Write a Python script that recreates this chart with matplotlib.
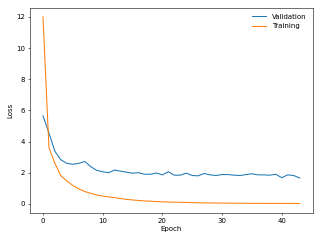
import matplotlib
matplotlib.use('Agg')
import matplotlib.pyplot as plt

# 학습 곡선 데이터
epochs = list(range(44))
val_loss = [5.65, 4.55, 3.37, 2.83, 2.6, 2.54, 2.6, 2.72, 2.39, 2.15,
            2.06, 2.0, 2.17, 2.1, 2.03, 1.97, 2.0, 1.9, 1.9, 1.98,
            1.86, 2.06, 1.84, 1.84, 1.97, 1.82, 1.8, 1.95, 1.86, 1.82,
            1.88, 1.88, 1.84, 1.82, 1.88, 1.93, 1.86, 1.86, 1.84, 1.9,
            1.68, 1.86, 1.82, 1.66]
train_loss = [12.0, 3.6, 2.6, 1.8, 1.47, 1.18, 0.96, 0.79, 0.68, 0.57,
              0.5, 0.45, 0.4, 0.34, 0.29, 0.25, 0.22, 0.19, 0.17, 0.15,
              0.13, 0.12, 0.11, 0.1, 0.09, 0.08, 0.07, 0.065, 0.06, 0.055,
              0.05, 0.045, 0.042, 0.04, 0.037, 0.035, 0.033, 0.031, 0.03, 0.028,
              0.026, 0.025, 0.024, 0.022]

fig, ax = plt.subplots(figsize=(6.4, 4.8), dpi=50)
ax.plot(epochs, val_loss, label='Validation')
ax.plot(epochs, train_loss, label='Training')
ax.set_xlabel('Epoch')
ax.set_ylabel('Loss')
ax.legend(loc='upper right', frameon=False)

fig.tight_layout()
fig.savefig('out.png')
